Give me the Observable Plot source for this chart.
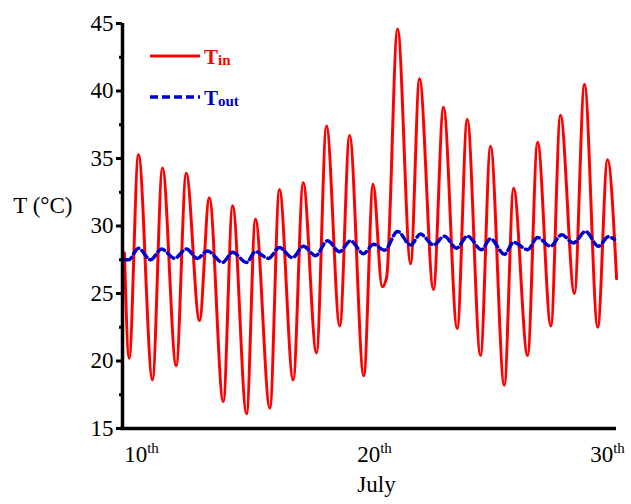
<!DOCTYPE html>
<html>
<head>
<meta charset="utf-8">
<script src="https://cdn.jsdelivr.net/npm/d3@7"></script>
<script src="https://cdn.jsdelivr.net/npm/@observablehq/plot@0.6"></script>
<style>
  html, body { margin: 0; padding: 0; background: white; }
  svg text { font-family: "Liberation Serif", "DejaVu Serif", serif !important; }
</style>
</head>
<body>
<div id="chart"></div>
<script>
// Time in days of July, and indoor temperature (°C)
const tinDays = [9.27, 9.47, 9.87, 10.47, 10.90, 11.49, 11.92, 12.49, 12.91, 13.51, 13.91, 14.51, 14.89, 15.51, 15.92, 16.51, 16.94, 17.51, 17.94, 18.51, 18.93, 19.54, 19.94, 20.33, 20.52, 20.99, 21.55, 21.93, 22.53, 22.96, 23.55, 23.98, 24.55, 24.98, 25.57, 25.97, 26.57, 27.00, 27.57, 27.98, 28.58, 29.01, 29.58, 30.00, 30.39];
const tinValues = [28.0, 20.2, 35.3, 18.6, 34.3, 19.65, 33.9, 23.0, 32.1, 17.0, 31.5, 16.1, 30.5, 16.5, 32.7, 18.6, 33.2, 20.6, 37.4, 22.6, 36.7, 18.9, 33.1, 25.5, 26.2, 44.6, 27.2, 40.9, 25.3, 38.8, 22.4, 37.9, 20.4, 35.9, 18.2, 32.8, 20.4, 36.2, 22.6, 38.2, 25.0, 40.5, 22.5, 34.9, 26.1];

// Outdoor temperature (°C)
const toutDays = [9.27, 9.45, 9.87, 10.39, 10.86, 11.42, 11.93, 12.40, 12.83, 13.48, 13.91, 14.51, 14.89, 15.45, 15.92, 16.48, 16.95, 17.47, 17.98, 18.50, 18.97, 19.53, 19.96, 20.43, 20.99, 21.55, 21.97, 22.53, 23.00, 23.52, 23.99, 24.59, 24.98, 25.58, 25.97, 26.57, 27.00, 27.55, 28.03, 28.54, 29.06, 29.61, 30.04, 30.30];
const toutValues = [27.5, 27.5, 28.35, 27.5, 28.3, 27.6, 28.3, 27.6, 28.15, 27.3, 28.05, 27.3, 28.1, 27.6, 28.4, 27.65, 28.5, 27.8, 28.9, 28.1, 28.9, 27.95, 28.65, 28.2, 29.6, 28.6, 29.4, 28.6, 29.25, 28.35, 29.25, 28.25, 29.05, 27.9, 28.8, 28.25, 29.15, 28.5, 29.35, 28.75, 29.6, 28.5, 29.2, 29.0];

const xDomain = [9.185, 30.386];
const yDomain = [15, 45];
const xTicks = [10, 20, 30];
const yTicks = [15, 20, 25, 30, 35, 40, 45];
const yMinorTicks = [17.5, 22.5, 27.5, 32.5, 37.5, 42.5];
const yTitle = "T (°C)";
const xTitle = "July";
const tickSuffix = "th";

const redColor = "#ff0000";
const blueColor = "#0000cc";
const serif = "Liberation Serif, DejaVu Serif, serif";

const chart = Plot.plot({
  width: 631,
  height: 504,
  marginLeft: 122,
  marginRight: 15,
  marginTop: 23,
  marginBottom: 76,
  style: { fontFamily: serif, fontSize: "23px", color: "black", background: "white" },
  x: { domain: xDomain },
  y: { domain: yDomain },
  marks: [
    Plot.line(tinValues, { x: tinDays, y: tinValues, stroke: redColor, strokeWidth: 3, curve: "monotone-x" }),
    Plot.line(toutValues, { x: toutDays, y: toutValues, stroke: blueColor, strokeWidth: 3.5, strokeDasharray: "8,4", curve: "monotone-x" }),
    Plot.ruleX([xDomain[0]], { stroke: "black", strokeWidth: 3.5 }),
    Plot.ruleY([yDomain[0]], { stroke: "black", strokeWidth: 3.5, x1: xDomain[0], x2: xDomain[1], insetLeft: -2 }),
    Plot.axisY(yTicks, { tickSize: 6, tickPadding: 3, strokeWidth: 3, label: null, fontSize: 23 }),
    Plot.axisY(yMinorTicks, { tickSize: 3, strokeWidth: 3, tickFormat: () => "", label: null }),
    Plot.axisX(xTicks, { tickSize: 0, tickPadding: 17, label: null, fontSize: 23 }),
    Plot.text([yTitle], { frameAnchor: "left", textAnchor: "end", dx: -50, dy: -20, text: d => d, fontSize: 23 }),
    Plot.text([xTitle], { frameAnchor: "bottom", dx: 7, dy: 63, text: d => d, fontSize: 23 })
  ]
});

document.getElementById("chart").appendChild(chart);

const svg = d3.select(chart);
// Superscript suffix on x tick labels
svg.selectAll("[aria-label='x-axis tick label'] text").each(function () {
  const t = d3.select(this);
  const s = t.text();
  t.text(null);
  t.append("tspan").text(s);
  t.append("tspan").attr("dy", "-0.6em").attr("font-size", "15px").text(tickSuffix);
});

// Legend inside plot
const lg = svg.append("g").attr("font-weight", "bold").attr("text-anchor", "start");
lg.append("line").attr("x1", 150).attr("x2", 200).attr("y1", 56).attr("y2", 56)
  .attr("stroke", redColor).attr("stroke-width", 3);
const t1 = lg.append("text").attr("x", 204).attr("y", 64).attr("fill", redColor).attr("font-size", 21).attr("text-anchor", "start");
t1.append("tspan").text("T");
t1.append("tspan").attr("font-size", 15).attr("dy", 1).text("in");
lg.append("line").attr("x1", 150).attr("x2", 200).attr("y1", 97).attr("y2", 97)
  .attr("stroke", blueColor).attr("stroke-width", 3.5).attr("stroke-dasharray", "8,4");
const t2 = lg.append("text").attr("x", 204).attr("y", 105).attr("fill", blueColor).attr("font-size", 21).attr("text-anchor", "start");
t2.append("tspan").text("T");
t2.append("tspan").attr("font-size", 15).attr("dy", 1).text("out");
svg.selectAll("text").style("font-family", serif);
</script>
</body>
</html>
